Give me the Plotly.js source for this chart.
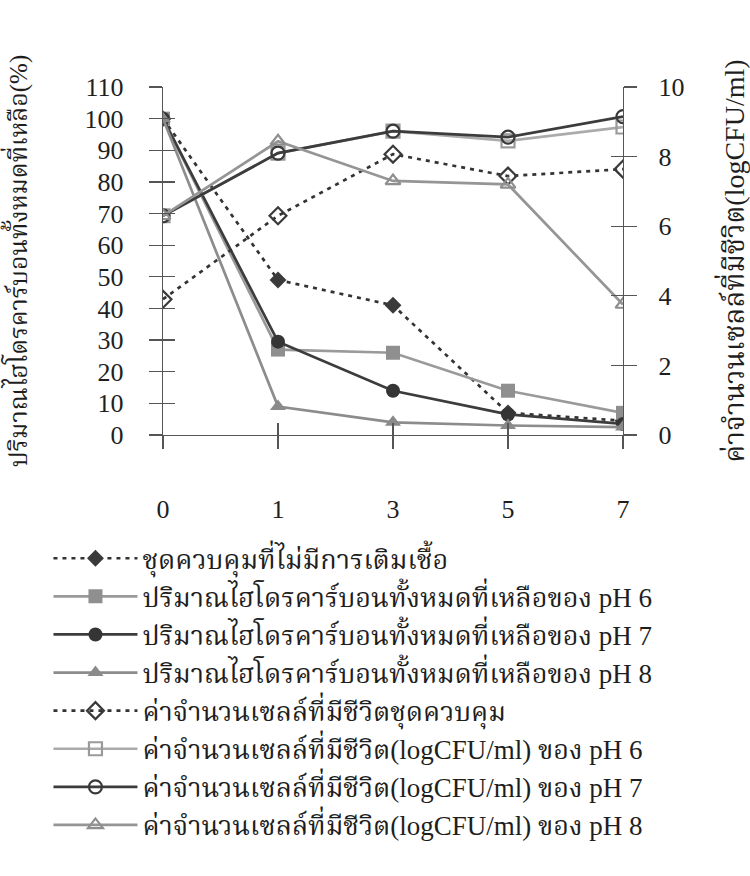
<!DOCTYPE html>
<html>
<head>
<meta charset="utf-8">
<script src="https://cdn.plot.ly/plotly-3.0.1.min.js"></script>
<style>
  html, body { margin: 0; padding: 0; background: #fff; }
  #chart { width: 750px; height: 876px; }
</style>
</head>
<body>
<div id="chart"></div>
<script>
// Sampling days
const days = ["0", "1", "3", "5", "7"];

// Total remaining hydrocarbon (%)
const hcControl = [100, 49, 41, 7, 4.5];
const hcPH6 = [100, 27, 26, 14, 7];
const hcPH7 = [100, 29.5, 14, 6.5, 3.5];
const hcPH8 = [100, 9, 4, 3, 2.5];

// Viable cell count (logCFU/ml)
const cellControl = [3.9, 6.3, 8.07, 7.44, 7.64];
const cellPH6 = [6.3, 8.1, 8.73, 8.45, 8.85];
const cellPH7 = [6.3, 8.1, 8.73, 8.56, 9.15];
const cellPH8 = [6.3, 8.44, 7.3, 7.2, 3.75];

const names = [
  "ชุดควบคุมที่ไม่มีการเติมเชื้อ",
  "ปริมาณไฮโดรคาร์บอนทั้งหมดที่เหลือของ pH 6",
  "ปริมาณไฮโดรคาร์บอนทั้งหมดที่เหลือของ pH 7",
  "ปริมาณไฮโดรคาร์บอนทั้งหมดที่เหลือของ pH 8",
  "ค่าจำนวนเซลล์ที่มีชีวิตชุดควบคุม",
  "ค่าจำนวนเซลล์ที่มีชีวิต(logCFU/ml) ของ pH 6",
  "ค่าจำนวนเซลล์ที่มีชีวิต(logCFU/ml) ของ pH 7",
  "ค่าจำนวนเซลล์ที่มีชีวิต(logCFU/ml) ของ pH 8"
];

const serif = "'Liberation Serif', 'Noto Serif Thai', 'Noto Sans Thai', serif";

function series(y, name, axis, lineColor, dash, symbol, size, fill, open) {
  return {
    x: days, y: y, name: name, yaxis: axis, type: "scatter", mode: "lines+markers",
    line: { color: lineColor, width: 2.7, dash: dash },
    marker: {
      symbol: symbol, size: size,
      color: open ? "rgba(255,255,255,0)" : fill,
      line: { color: fill, width: open ? 2.2 : 0 }
    },
    hoverinfo: "skip"
  };
}

const traces = [
  series(hcControl, names[0], "y", "#333333", "4px,5px", "diamond", 13, "#3a3a3a", false),
  series(hcPH6, names[1], "y", "#9a9a9a", "solid", "square", 14, "#8f8f8f", false),
  series(hcPH7, names[2], "y", "#3c3c3c", "solid", "circle", 14, "#353535", false),
  series(hcPH8, names[3], "y", "#8c8c8c", "solid", "triangle-up", 14, "#8a8a8a", false),
  series(cellControl, names[4], "y2", "#333333", "4px,5px", "diamond", 13, "#3a3a3a", true),
  series(cellPH6, names[5], "y2", "#ababab", "solid", "square", 13, "#9a9a9a", true),
  series(cellPH7, names[6], "y2", "#3c3c3c", "solid", "circle", 13, "#3a3a3a", true),
  series(cellPH8, names[7], "y2", "#959595", "solid", "triangle-up", 13, "#8f8f8f", true),
  // empty carriers so the inner tick axes get drawn
  { x: [], y: [], xaxis: "x2", yaxis: "y3", type: "scatter", mode: "none", showlegend: false, hoverinfo: "skip" },
  { x: [], y: [], xaxis: "x2", yaxis: "y4", type: "scatter", mode: "none", showlegend: false, hoverinfo: "skip" }
];

const tickFont = { family: serif, size: 26, color: "#1e1e1e" };
const axisCommon = {
  showgrid: false, zeroline: false, showline: true, linecolor: "#555", linewidth: 1.2,
  ticks: "outside", ticklen: 13, tickcolor: "#555", tickwidth: 1.2, tickfont: tickFont
};
const innerTicks = {
  showgrid: false, zeroline: false, showline: false, ticks: "inside", ticklen: 12,
  tickcolor: "#555", tickwidth: 1.2, showticklabels: false, fixedrange: true
};

const layout = {
  width: 750, height: 876,
  margin: { l: 163, r: 127, t: 87, b: 441 },
  paper_bgcolor: "#fff", plot_bgcolor: "rgba(0,0,0,0)",
  showlegend: true,
  legend: {
    orientation: "v", x: -0.249, xanchor: "left", y: -0.285, yanchor: "top",
    font: { family: serif, size: 27, color: "#1e1e1e" },
    itemwidth: 84, tracegroupgap: 0, bgcolor: "rgba(0,0,0,0)"
  },
  xaxis: Object.assign({}, axisCommon, {
    type: "category", range: [0, 4], ticklabelstandoff: 38
  }),
  yaxis: Object.assign({}, axisCommon, {
    range: [0, 110], dtick: 10, tick0: 0, ticklabelstandoff: 20,
    title: { text: "ปริมาณไฮโดรคาร์บอนทั้งหมดที่เหลือ(%)", font: { family: serif, size: 25, color: "#1e1e1e" }, standoff: 64 }
  }),
  yaxis2: Object.assign({}, axisCommon, {
    overlaying: "y", side: "right", anchor: "x", range: [0, 10], dtick: 2, tick0: 0,
    ticklabelstandoff: 16,
    title: { text: "ค่าจำนวนเซลล์ที่มีชีวิต(logCFU/ml)", font: { family: serif, size: 28, color: "#1e1e1e" }, standoff: 44 }
  }),
  // inner halves of the crossing tick marks
  xaxis2: Object.assign({}, innerTicks, { overlaying: "x", anchor: "y", range: [0, 4], dtick: 1, tick0: 0 }),
  yaxis3: Object.assign({}, innerTicks, { overlaying: "y", anchor: "x", side: "left", range: [0, 110], dtick: 10, tick0: 0 }),
  yaxis4: Object.assign({}, innerTicks, { overlaying: "y", anchor: "x", side: "right", range: [0, 10], dtick: 2, tick0: 0 })
};

Plotly.newPlot("chart", traces, layout, { displayModeBar: false, staticPlot: true });
</script>
</body>
</html>
